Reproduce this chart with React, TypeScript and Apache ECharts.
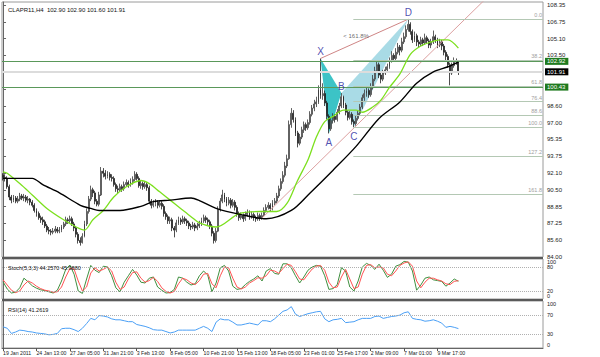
import React, { useEffect, useRef } from "react";
import * as echarts from "echarts";

// [open, close, low, high] for each H4 bar
const candles: number[][] = [
  [91.9,91.7,91.4,92.1],[91.7,91.6,91.3,92.0],[91.6,90.8,90.6,91.8],[90.8,89.8,89.5,91.0],[89.8,89.5,89.2,90.0],
  [89.5,89.7,89.3,90.0],[89.7,89.4,89.2,89.9],[89.4,89.6,89.2,89.9],[89.6,89.9,89.4,90.2],[89.9,89.7,89.5,90.1],
  [89.7,89.8,89.4,90.1],[89.8,89.5,89.3,90.0],[89.5,89.6,89.2,89.9],[89.6,89.3,89.0,89.7],[89.3,89.0,88.8,89.5],
  [89.0,88.5,88.3,89.2],[88.5,88.2,87.9,88.7],[88.2,87.8,87.6,88.4],[87.8,87.6,87.3,88.0],[87.6,87.4,87.1,87.9],
  [87.4,87.0,86.8,87.6],[87.0,86.6,86.4,87.2],[86.6,86.5,86.2,86.9],[86.5,86.4,86.1,86.7],[86.4,86.5,86.2,86.8],
  [86.5,86.7,86.3,87.0],[86.7,86.5,86.3,86.9],[86.5,86.6,86.3,86.9],[86.6,86.9,86.4,87.1],[86.9,87.2,86.7,87.4],
  [87.2,87.6,87.0,87.9],[87.6,87.5,87.2,87.8],[87.5,87.7,87.3,88.0],[87.7,87.2,87.0,87.9],[87.2,86.8,86.5,87.4],
  [86.8,86.2,85.9,87.0],[86.2,85.6,85.3,86.4],[85.6,85.4,85.1,85.9],[85.4,86.0,85.3,86.3],[86.0,87.2,85.9,87.5],
  [87.2,88.4,87.0,88.7],[88.4,89.6,88.2,89.9],[89.6,90.5,89.4,90.9],[90.5,90.2,89.8,90.7],[90.2,89.4,89.1,90.4],
  [89.4,89.1,88.9,89.6],[89.1,90.0,88.9,90.3],[90.0,92.3,89.9,92.7],[92.3,92.1,91.7,92.6],[92.1,91.8,91.5,92.4],
  [91.8,92.0,91.6,92.3],[92.0,91.7,91.4,92.2],[91.7,91.6,91.3,92.0],[91.6,91.0,90.8,91.8],[91.0,90.6,90.3,91.2],
  [90.6,90.5,90.2,90.9],[90.5,90.8,90.3,91.1],[90.8,90.6,90.3,91.0],[90.6,91.0,90.4,91.3],[91.0,91.2,90.8,91.5],
  [91.2,91.0,90.7,91.4],[91.0,91.3,90.8,91.6],[91.3,91.5,91.0,91.8],[91.5,92.0,91.3,92.3],[92.0,91.6,91.4,92.2],
  [91.6,90.9,90.7,91.8],[90.9,91.1,90.6,91.4],[91.1,90.8,90.5,91.3],[90.8,91.0,90.6,91.3],[91.0,90.7,90.4,91.2],
  [90.7,89.4,89.1,90.9],[89.4,89.0,88.7,89.6],[89.0,89.2,88.8,89.5],[89.2,89.3,88.9,89.6],[89.3,89.0,88.7,89.5],
  [89.0,89.2,88.8,89.5],[89.2,88.9,88.6,89.4],[88.9,88.2,87.9,89.1],[88.2,87.9,87.6,88.4],[87.9,87.5,87.2,88.1],
  [87.5,87.6,87.2,87.9],[87.6,86.8,86.5,87.8],[86.8,86.6,85.9,87.0],[86.6,87.3,86.4,87.6],[87.3,87.6,87.1,87.9],
  [87.6,87.4,87.1,87.8],[87.4,87.7,87.2,88.0],[87.7,87.5,87.2,87.9],[87.5,87.3,87.0,87.7],[87.3,87.0,86.7,87.5],
  [87.0,86.9,86.6,87.2],[86.9,87.1,86.7,87.4],[87.1,86.8,86.5,87.3],[86.8,87.0,86.6,87.3],[87.0,87.2,86.8,87.5],
  [87.2,87.5,87.0,87.8],[87.5,87.8,87.3,88.1],[87.8,87.6,87.3,88.0],[87.6,87.4,87.1,87.8],[87.4,87.0,86.7,87.6],
  [87.0,86.3,86.0,87.2],[86.3,85.6,85.3,86.5],[85.6,86.5,85.4,86.8],[86.5,88.6,86.4,88.9],[88.6,89.4,88.4,89.7],
  [89.4,90.0,89.2,90.5],[90.0,89.6,89.3,90.2],[89.6,89.2,88.9,89.8],[89.2,89.5,89.0,89.8],[89.5,89.0,88.7,89.7],
  [89.0,89.3,88.8,89.6],[89.3,88.8,88.5,89.5],[88.8,88.2,87.9,89.0],[88.2,87.8,87.5,88.4],[87.8,88.0,87.6,88.3],
  [88.0,87.7,87.4,88.2],[87.7,88.1,87.5,88.4],[88.1,88.3,87.9,88.6],[88.3,87.9,87.6,88.5],[87.9,88.1,87.7,88.4],
  [88.1,87.8,87.5,88.3],[87.8,87.7,87.4,88.0],[87.7,88.0,87.5,88.3],[88.0,87.8,87.5,88.2],[87.8,88.0,87.6,88.3],
  [88.0,88.5,87.9,88.8],[88.5,88.8,88.3,89.1],[88.8,89.0,88.6,89.3],[89.0,88.7,88.4,89.2],[88.7,89.2,88.5,89.5],
  [89.2,89.4,89.0,89.7],[89.4,89.9,89.2,90.2],[89.9,90.6,89.7,90.9],[90.6,91.3,90.4,91.6],[91.3,91.9,91.1,92.3],
  [91.9,92.8,91.7,93.2],[92.8,93.5,92.6,93.9],[93.5,96.8,93.4,97.2],[96.8,97.9,96.5,98.4],[97.9,97.3,97.0,98.2],
  [97.3,96.0,95.7,97.5],[96.0,95.0,94.6,96.2],[95.0,95.6,94.8,95.9],[95.6,96.3,95.4,96.6],[96.3,96.8,96.0,97.1],
  [96.8,96.5,96.2,97.0],[96.5,97.0,96.3,97.3],[97.0,97.8,96.8,98.1],[97.8,98.4,97.6,98.7],[98.4,98.8,98.1,99.2],
  [98.8,99.0,98.5,99.5],[99.0,100.2,98.8,100.6],[100.2,99.6,99.3,103.2],[99.6,99.8,99.2,100.8],[99.8,98.9,98.6,100.1],
  [98.9,97.6,97.3,99.1],[97.6,96.4,95.95,97.8],[96.4,97.2,96.2,97.5],[97.2,97.6,96.9,97.9],[97.6,97.3,97.0,97.8],
  [97.3,98.0,97.1,98.3],[98.0,98.6,97.8,98.9],[98.6,99.5,98.4,99.85],[99.5,98.7,98.4,99.6],[98.7,98.0,97.7,98.9],
  [98.0,97.5,97.2,98.2],[97.5,97.8,97.3,98.1],[97.8,97.1,96.8,98.0],[97.1,96.9,96.56,97.3],[96.9,97.4,96.7,97.7],
  [97.4,97.9,97.2,98.2],[97.9,98.5,97.7,98.8],[98.5,99.4,98.3,99.7],[99.4,99.8,99.1,100.2],[99.8,100.1,99.5,100.4],
  [100.1,99.7,99.4,100.3],[99.7,100.4,99.5,100.8],[100.4,101.2,100.2,101.6],[101.2,102.0,101.0,102.4],[102.0,102.6,101.8,103.0],
  [102.6,101.6,101.3,102.8],[101.6,101.2,100.8,101.8],[101.2,101.8,101.0,102.1],[101.8,102.1,101.6,102.4],[102.1,102.4,101.9,102.7],
  [102.4,103.0,102.2,103.3],[103.0,103.5,102.8,103.9],[103.5,103.2,102.9,103.7],[103.2,103.8,103.0,104.2],[103.8,104.3,103.6,104.7],
  [104.3,104.0,103.5,104.5],[104.0,104.8,103.8,105.2],[104.8,105.3,104.6,105.7],[105.3,106.0,105.1,106.4],[106.0,106.5,105.8,107.0],
  [106.5,105.8,105.5,106.7],[105.8,105.0,104.7,106.0],[105.0,105.4,104.8,105.8],[105.4,104.8,104.4,105.6],[104.8,104.6,104.3,105.0],
  [104.6,105.0,104.4,105.3],[105.0,104.7,104.4,105.2],[104.7,105.2,104.5,105.6],[105.2,104.9,104.6,105.4],[104.9,104.5,104.2,105.1],
  [104.5,104.8,104.2,105.1],[104.8,105.3,104.6,105.9],[105.3,105.0,104.7,105.5],[105.0,104.5,104.2,105.2],[104.5,104.8,104.3,105.1],
  [104.8,104.4,104.0,105.0],[104.4,103.8,103.5,104.6],[103.8,103.4,103.0,104.0],[103.4,102.6,102.3,103.6],[102.6,101.8,100.6,102.8],
  [101.8,102.5,101.6,102.8],[102.5,103.0,102.3,103.3],[103.0,102.9,102.6,103.2],[102.9,101.91,101.6,102.9]
];

// moving averages: [bar index, price]
const greenMA: number[][] = [
  [0,92.24],[2,92.1],[8,91.1],[14,90.0],[21,88.7],[29,87.6],[35,86.9],[39,86.6],[43,87.6],[48,88.5],
  [53,89.8],[59,90.8],[66,91.4],[70,91.1],[75,90.3],[80,89.5],[85,88.7],[90,87.9],[94,87.3],[102,86.9],
  [113,88.2],[123,88.4],[131,88.4],[136,89.2],[141,91.4],[146,93.4],[150,95.6],[154,97.1],[158,97.6],[163,98.2],
  [169,98.2],[172,98.0],[177,98.5],[181,99.2],[185,100.4],[190,101.7],[195,103.6],[200,104.4],[205,104.8],[209,105.0],
  [213,105.0],[218,104.2]
];
const blackMA: number[][] = [
  [0,91.6],[14,91.6],[19,91.0],[27,90.2],[37,89.0],[42,88.7],[46,88.5],[56,88.5],[66,88.9],[72,89.35],
  [80,89.5],[90,89.7],[94,89.45],[102,88.7],[114,88.1],[126,87.7],[138,88.5],[147,90.2],[158,92.4],[169,94.7],
  [180,97.4],[190,99.0],[198,100.8],[206,101.9],[213,102.4],[218,102.85]
];

// oscillators, one value every 2 bars
const stochMain = [
  43,25,15,17,28,52,43,33,27,23,21,18,15,22,45,74,85,62,20,14,
  50,84,72,66,82,80,58,28,18,42,58,74,60,42,40,52,55,30,22,15,
  16,24,55,52,42,35,38,58,70,60,18,40,78,84,70,32,24,26,36,44,
  50,58,45,70,76,64,62,88,88,78,58,40,55,72,80,84,82,58,24,26,
  36,78,70,30,20,45,80,89,84,74,87,72,54,62,82,86,94,92,70,22,
  35,52,55,48,46,44,32,40,50,44.257
];
const stochSignal = [
  48,35,22,16,20,35,45,40,32,26,22,20,17,18,30,55,76,75,45,20,
  30,65,78,70,74,80,70,42,24,30,50,66,68,52,42,46,54,44,28,19,
  15,19,38,52,48,40,36,46,62,64,38,28,58,80,78,52,30,25,30,40,
  46,53,52,58,72,70,64,76,87,84,68,50,48,62,75,82,84,72,42,28,
  30,55,74,50,26,30,62,84,86,78,80,78,62,58,70,84,90,93,82,45,
  28,42,52,52,48,45,38,36,44,45.988
];
const rsiValues = [
  45,42,31,34,38,37,35,34,32,31,30,28,29,31,41,42,42,39,35,42,
  52,63,60,69,68,66,62,60,60,58,56,56,50,48,46,43,39,38,38,35,
  32,34,38,38,38,38,38,42,46,42,35,55,62,60,60,55,49,49,51,53,
  51,49,58,58,56,62,70,78,81,88,72,67,70,73,75,77,78,62,56,60,
  61,63,54,55,56,60,63,63,63,67,68,63,65,67,68,70,75,77,63,61,
  60,57,58,60,57,53,44,46,44,41.2619
];

const tickLabels = [
  "19 Jan 2011","24 Jan 13:00","27 Jan 05:00","31 Jan 21:00","3 Feb 13:00","8 Feb 05:00","10 Feb 21:00",
  "15 Feb 13:00","18 Feb 05:00","23 Feb 01:00","25 Feb 17:00","2 Mar 09:00","7 Mar 01:00","9 Mar 17:00"
];
const tickEvery = 16;

const stochLevels = [20, 80];
const rsiLevels = [30, 70];

const patternNames = ["X", "A", "B", "C", "D"];
const patternIdx = [152, 156, 162, 168, 194];
const patternPrice = [103.2, 95.95, 99.85, 96.56, 107.0];

const fibLabels = ["0.0", "38.2", "61.8", "76.4", "88.6", "100.0", "127.2", "161.8"];
const fibPrices = [107.0, 103.01, 100.55, 99.02, 97.75, 96.56, 93.72, 90.11];
const fibStart = 167.7;

const trendIdx = [124, 258.5];
const trendPrice = [87.77, 114.4];

const levelPrices = [102.92, 100.43];
const bidPrice = 101.91;

const symbolName = "CLAPR11,H4";
const stochName = "Stoch(5,3,3)";
const rsiName = "RSI(14)";
const ratioText = "< 161.8%";

const N_CATS = 259;
const FONT = "Liberation Sans";

export default function App() {
  const ref = useRef<HTMLDivElement>(null);
  useEffect(() => {
    if (!ref.current) return;
    const chart = echarts.init(ref.current, undefined, { renderer: "svg" });
    const cats = Array.from({ length: N_CATS }, (_, i) => String(i));
    const last = candles[candles.length - 1];
    const header = `${symbolName}  ${last[0].toFixed(2)} ${last[3].toFixed(2)} ${last[2].toFixed(2)} ${last[1].toFixed(2)}`;
    const stochHeader = `${stochName} ${stochMain[stochMain.length - 1].toFixed(4)} ${stochSignal[stochSignal.length - 1].toFixed(4)}`;
    const rsiHeader = `${rsiName} ${rsiValues[rsiValues.length - 1].toFixed(4)}`;
    const marked = [...levelPrices, bidPrice];
    const pts = patternIdx.map((x, k) => [x, patternPrice[k]]);
    const showTick = (i: number) => i % tickEvery === 0 && i / tickEvery < tickLabels.length;

    const levelAxis = (grid: number, interval: number, levels: number[]) => ({
      type: "value", gridIndex: grid, position: "right", min: 0, max: 100, interval,
      splitLine: { show: false },
      axisLine: { show: true, lineStyle: { color: "#666" } },
      axisTick: { show: false },
      axisLabel: {
        fontSize: 5.5, color: "#222", margin: 4, fontFamily: FONT, showMinLabel: false, showMaxLabel: false,
        formatter: (v: number) => (levels.includes(v) ? String(v) : ""),
      },
    });
    const edgeAxis = (grid: number) => ({
      type: "value", gridIndex: grid, position: "right", min: 0, max: 100, interval: 100,
      splitLine: { show: false }, axisLine: { show: false }, axisTick: { show: false },
      axisLabel: {
        fontSize: 5.5, color: "#222", margin: 4, fontFamily: FONT, showMinLabel: true, showMaxLabel: true,
        verticalAlignMinLabel: "bottom", verticalAlignMaxLabel: "top",
      },
    });

    const option: any = {
      animation: false,
      backgroundColor: "#ffffff",
      textStyle: { fontFamily: FONT },
      title: [
        { text: header, left: 3, top: 2, textStyle: { fontSize: 6, fontWeight: "normal", color: "#111", fontFamily: FONT } },
        { text: stochHeader, left: 3, top: 260, textStyle: { fontSize: 5.5, fontWeight: "normal", color: "#111", fontFamily: FONT } },
        { text: rsiHeader, left: 3, top: 302, textStyle: { fontSize: 5.5, fontWeight: "normal", color: "#111", fontFamily: FONT } },
      ],
      grid: [
        { left: 2, right: 57, top: 2, height: 255, show: true, borderColor: "#9a9a9a", borderWidth: 1 },
        { left: 2, right: 57, top: 259, height: 40, show: true, borderColor: "#9a9a9a", borderWidth: 1 },
        { left: 2, right: 57, top: 301, height: 47, show: true, borderColor: "#9a9a9a", borderWidth: 1 },
      ],
      xAxis: [
        { type: "category", gridIndex: 0, data: cats, show: false, boundaryGap: true },
        { type: "value", gridIndex: 0, min: -0.5, max: N_CATS - 0.5, show: false },
        { type: "value", gridIndex: 1, min: -0.5, max: N_CATS - 0.5, show: false },
        { type: "value", gridIndex: 2, min: -0.5, max: N_CATS - 0.5, show: false },
        {
          type: "category", gridIndex: 2, data: cats, boundaryGap: true, position: "bottom",
          axisLine: { show: true, lineStyle: { color: "#666" } },
          axisTick: { show: true, alignWithLabel: true, length: 3, lineStyle: { color: "#555" }, interval: showTick },
          axisLabel: {
            interval: showTick,
            formatter: (_v: string, i: number) => tickLabels[i / tickEvery] ?? "",
            align: "left", fontSize: 5.2, color: "#222", margin: 2, fontFamily: FONT,
          },
          splitLine: { show: false },
        },
      ],
      yAxis: [
        {
          type: "value", gridIndex: 0, position: "right", min: 84, max: 108.66, interval: 1.625,
          splitLine: { show: false },
          axisLine: { show: true, lineStyle: { color: "#666" } },
          axisTick: { show: true, length: 3, lineStyle: { color: "#666" } },
          axisLabel: {
            fontSize: 6, color: "#222", margin: 4, showMaxLabel: false, fontFamily: FONT,
            formatter: (v: number) =>
              marked.some((m) => Math.abs(m - v) < 0.4) ? "" : (Math.floor(v * 20 + 1e-6) / 20).toFixed(2),
          },
        },
        levelAxis(1, 20, stochLevels),
        levelAxis(2, 10, rsiLevels),
        edgeAxis(1),
        edgeAxis(2),
      ],
      series: [
        {
          type: "custom", name: "pattern", xAxisIndex: 1, yAxisIndex: 0, z: 1,
          data: [[0], [2]],
          renderItem: (params: any, api: any) => {
            const s = params.dataIndex * 2;
            const poly = [pts[s], pts[s + 1], pts[s + 2]].map((p) => api.coord(p));
            return {
              type: "polygon",
              shape: { points: poly },
              style: { fill: params.dataIndex === 0 ? "#3cc3c6" : "#a9dbe6", stroke: "none" },
            };
          },
        },
        {
          type: "candlestick", name: "price", xAxisIndex: 0, yAxisIndex: 0, z: 3,
          data: candles, barWidth: 1.4,
          itemStyle: { color: "#ffffff", color0: "#222222", borderColor: "#3a3a3a", borderColor0: "#222222", borderWidth: 0.8 },
          markLine: {
            silent: true, symbol: ["none", "none"], animation: false,
            label: {
              show: true, position: "end", distance: 2, color: "#ffffff", fontSize: 6, fontFamily: FONT,
              padding: [1, 3, 0, 2], formatter: (p: any) => Number(p.value).toFixed(2),
            },
            data: [
              { yAxis: levelPrices[0], lineStyle: { color: "#5a985a", width: 1, type: "solid" }, label: { backgroundColor: "#1f7a1f" } },
              { yAxis: bidPrice, lineStyle: { color: "#dcdcdc", width: 2, type: "solid" }, label: { backgroundColor: "#000000" } },
              { yAxis: levelPrices[1], lineStyle: { color: "#5a985a", width: 1, type: "solid" }, label: { backgroundColor: "#1f7a1f" } },
            ],
          },
        },
        {
          type: "line", name: "fib", xAxisIndex: 1, yAxisIndex: 0, z: 2, data: [[fibStart, fibPrices[0]]],
          symbol: "none", lineStyle: { width: 0 },
          markLine: {
            silent: true, symbol: ["none", "none"], animation: false,
            lineStyle: { color: "#b4c8b4", width: 1, type: "solid" },
            label: {
              show: true, position: "insideEndTop", distance: 1, color: "#a0a0a0", fontSize: 5.5, fontFamily: FONT,
              formatter: (p: any) => p.name,
            },
            data: fibPrices.map((p, k) => [
              { name: fibLabels[k], coord: [fibStart, p] },
              { coord: [N_CATS - 0.5, p] },
            ]),
          },
        },
        {
          type: "line", name: "trend", xAxisIndex: 1, yAxisIndex: 0, z: 4, clip: true,
          data: trendIdx.map((x, k) => [x, trendPrice[k]]), symbol: "none",
          lineStyle: { color: "#dca0a0", width: 1 },
        },
        {
          type: "line", name: "xd", xAxisIndex: 1, yAxisIndex: 0, z: 4,
          data: [pts[0], pts[4]], symbol: "none",
          lineStyle: { color: "#cf8585", width: 1 },
        },
        {
          type: "line", name: "maFast", xAxisIndex: 1, yAxisIndex: 0, z: 5,
          data: greenMA, symbol: "none", smooth: 0.3, lineStyle: { color: "#7ce01e", width: 1.3 },
        },
        {
          type: "line", name: "maSlow", xAxisIndex: 1, yAxisIndex: 0, z: 5,
          data: blackMA, symbol: "none", smooth: 0.3, lineStyle: { color: "#000000", width: 1.4 },
        },
        {
          type: "scatter", name: "points", xAxisIndex: 1, yAxisIndex: 0, z: 6,
          symbolSize: 1, itemStyle: { color: "transparent" },
          data: pts.map((p, k) => ({
            value: p,
            label: {
              show: true, formatter: patternNames[k],
              position: k % 2 === 0 ? "top" : "bottom", distance: k % 2 === 0 ? 1 : 4,
              color: "#23239c", fontSize: 10, fontFamily: FONT,
            },
          })),
        },
        {
          type: "scatter", name: "ratio", xAxisIndex: 1, yAxisIndex: 0, z: 6,
          symbolSize: 1, itemStyle: { color: "transparent" },
          data: [{
            value: [(patternIdx[0] + patternIdx[4]) / 2 - 4, (patternPrice[0] + patternPrice[4]) / 2 + 0.3],
            label: { show: true, formatter: ratioText, position: "inside", color: "#444", fontSize: 6, fontFamily: FONT },
          }],
        },
        {
          type: "line", name: "stochMain", xAxisIndex: 2, yAxisIndex: 1,
          data: stochMain.map((v, k) => [k * 2, v]), symbol: "none",
          lineStyle: { color: "#3f8f3f", width: 1 },
          markLine: {
            silent: true, symbol: ["none", "none"], label: { show: false },
            lineStyle: { color: "#b0b0b0", type: "dotted", width: 1 },
            data: stochLevels.map((v) => ({ yAxis: v })),
          },
        },
        {
          type: "line", name: "stochSignal", xAxisIndex: 2, yAxisIndex: 1,
          data: stochSignal.map((v, k) => [k * 2, v]), symbol: "none",
          lineStyle: { color: "#ff5252", width: 1 },
        },
        {
          type: "line", name: "rsi", xAxisIndex: 3, yAxisIndex: 2,
          data: rsiValues.map((v, k) => [k * 2, v]), symbol: "none",
          lineStyle: { color: "#4a9ff5", width: 1 },
          markLine: {
            silent: true, symbol: ["none", "none"], label: { show: false },
            lineStyle: { color: "#b0b0b0", type: "dotted", width: 1 },
            data: rsiLevels.map((v) => ({ yAxis: v })),
          },
        },
      ],
      graphic: [
        { type: "rect", left: 2, top: 257, shape: { width: 541, height: 2 }, style: { fill: "#5a5a5a" }, z: 10 },
        { type: "rect", left: 2, top: 299, shape: { width: 541, height: 2 }, style: { fill: "#5a5a5a" }, z: 10 },
      ],
    };
    chart.setOption(option);
    return () => chart.dispose();
  }, []);
  return <div ref={ref} style={{ position: "fixed", left: 0, top: 0, width: 600, height: 357 }} />;
}
